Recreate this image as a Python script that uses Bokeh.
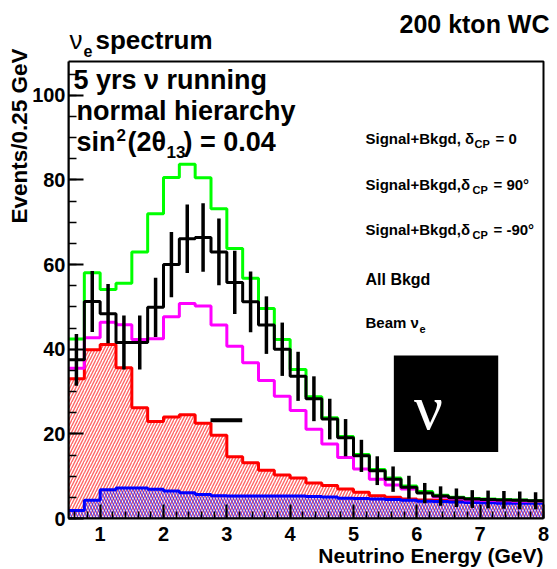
import numpy as np
from bokeh.plotting import figure
from bokeh.models import (Label, Range1d, FixedTicker, BoxAnnotation, Legend,
                          LegendItem, ColumnDataSource, Title)
from bokeh.core.properties import value
from bokeh.embed import file_html
from bokeh.resources import INLINE

# ---------------- data ----------------
E_MIN, E_MAX = 0.5, 8.0
bin_edges = np.linspace(E_MIN, E_MAX, 31)           # 0.25 GeV bins
bin_centers = 0.5 * (bin_edges[:-1] + bin_edges[1:])

sig_bkg_dcp0 = [37.5, 51.3, 48.4, 41.6, 41.6, 49.9, 60.0, 66.1, 66.4, 63.0,
                55.8, 51.2, 45.7, 40.0, 33.6, 28.3, 23.5, 19.1, 14.8, 11.3,
                9.3, 7.4, 6.0, 5.3, 4.9, 4.6, 4.5, 4.4, 4.3, 4.2]
sig_bkg_dcp0_err = [6.1, 7.2, 7.0, 6.4, 6.4, 7.0, 7.7, 8.1, 8.1, 7.9,
                    7.5, 7.2, 6.8, 6.3, 5.8, 5.3, 4.8, 4.4, 3.8, 3.4,
                    3.0, 2.7, 2.4, 2.3, 2.2, 2.1, 2.1, 2.1, 2.1, 2.0]
sig_bkg_dcp90 = [35.5, 42.7, 46.4, 45.8, 42.3, 42.5, 47.7, 50.8, 50.2, 45.7,
                 40.7, 36.8, 32.6, 28.9, 25.5, 21.1, 17.6, 14.4, 11.7, 9.3,
                 7.9, 7.0, 6.2, 5.1, 4.7, 4.4, 4.3, 4.2, 4.1, 4.0]
sig_bkg_dcpm90 = [42.4, 58.1, 54.1, 55.6, 63.0, 72.0, 80.6, 83.7, 80.5, 73.2,
                  63.8, 56.8, 49.6, 42.3, 35.2, 28.8, 23.8, 19.4, 15.1, 11.6,
                  9.6, 7.7, 6.4, 5.5, 5.0, 4.7, 4.6, 4.5, 4.4, 4.2]
all_bkgd = [33.0, 39.9, 41.1, 35.6, 26.2, 22.9, 24.0, 24.5, 22.5, 19.7,
            14.6, 13.2, 11.4, 10.3, 9.6, 8.4, 7.8, 7.0, 6.2, 5.4,
            5.0, 4.6, 4.4, 4.3, 4.2, 4.1, 4.1, 4.1, 4.1, 3.9]
beam_nue = [1.9, 4.3, 6.8, 7.2, 7.2, 6.9, 6.5, 6.1, 5.7, 5.4,
            5.3, 5.3, 5.3, 5.3, 5.3, 5.2, 5.1, 4.8, 4.7, 4.6,
            4.5, 4.3, 4.1, 4.0, 3.9, 3.8, 3.7, 3.6, 3.6, 3.6]

x_major_ticks = [1, 2, 3, 4, 5, 6, 7, 8]
x_minor_ticks = [round(0.6 + 0.2 * i, 2) for i in range(38)]
y_major_ticks = [0, 20, 40, 60, 80, 100]
y_minor_ticks = list(range(0, 110, 5))
Y_MAX = 108          # top of the plot box

# stray black dash seen in the picture
stray_x = [2.742, 3.243]
stray_y = [23.2, 23.2]

# black logo box (data units)
LOGO_LEFT, LOGO_RIGHT, LOGO_BOTTOM, LOGO_TOP = 5.637, 7.285, 15.7, 38.5

FONT = "Liberation Sans"

# ---------------- geometry ----------------
W, H = 557, 569
FL = 68                 # box / frame left (px)
BOX_RIGHT = 543         # box right (px)
BOX_TOP = 61            # box top (px)
FB = 518                # box / frame bottom (px)
FRAME_RIGHT = 553       # frame extended to the right for the header text
px_per_gev = (BOX_RIGHT - FL) / (E_MAX - E_MIN)
px_per_unit = (FB - BOX_TOP) / Y_MAX
x_end = E_MAX + (FRAME_RIGHT - BOX_RIGHT) / px_per_gev
y_end = FB / px_per_unit   # frame reaches the top of the canvas

p = figure(width=W, height=H, title=None, output_backend="svg",
           toolbar_location=None,
           x_range=Range1d(E_MIN, x_end), y_range=Range1d(0, y_end),
           min_border_left=FL, min_border_right=W - FRAME_RIGHT,
           min_border_top=0, min_border_bottom=H - FB)
p.xgrid.visible = False
p.ygrid.visible = False
p.outline_line_alpha = 0
p.background_fill_color = "white"
p.border_fill_color = "white"

p.xaxis.ticker = FixedTicker(ticks=x_major_ticks, minor_ticks=x_minor_ticks)
p.yaxis.ticker = FixedTicker(ticks=y_major_ticks, minor_ticks=y_minor_ticks)
p.xaxis.bounds = (E_MIN, E_MAX)
p.yaxis.bounds = (0, Y_MAX)
for ax in (p.xaxis[0], p.yaxis[0]):
    ax.axis_line_width = 2
    ax.major_tick_out = 0
    ax.minor_tick_out = 0
    ax.major_tick_line_width = 2
    ax.minor_tick_line_width = 1.5
    ax.major_label_text_font = FONT
    ax.major_label_text_font_style = "bold"
    ax.major_label_text_font_size = "20px"
    ax.major_label_text_color = "black"
p.xaxis.major_tick_in = 14
p.xaxis.minor_tick_in = 7
p.yaxis.major_tick_in = 15
p.yaxis.minor_tick_in = 8
p.xaxis.major_label_standoff = 8
p.yaxis.major_label_standoff = 3

# axis titles as side titles
p.add_layout(Title(text="Events/0.25 GeV", align="right", offset=48,
                   standoff=-4, vertical_align="bottom", text_font=FONT,
                   text_font_size="22.5px", text_font_style="bold",
                   text_color="black"), "left")
p.add_layout(Title(text="Neutrino Energy (GeV)", align="right",
                   offset=FRAME_RIGHT - BOX_RIGHT, standoff=0,
                   vertical_align="top", text_font=FONT,
                   text_font_size="21px", text_font_style="bold",
                   text_color="black"), "below")

zeros = [0.0] * len(all_bkgd)
src_bkg = ColumnDataSource(dict(left=bin_edges[:-1], right=bin_edges[1:],
                                top=all_bkgd, bottom=zeros))
src_beam = ColumnDataSource(dict(left=bin_edges[:-1], right=bin_edges[1:],
                                 top=beam_nue, bottom=zeros))
HATCH = dict(hatch_scale=6, hatch_weight=1.4, hatch_alpha=0.6)
p.quad(left="left", right="right", top="top", bottom="bottom", source=src_bkg,
       fill_color=None, line_color=None, hatch_pattern="/",
       hatch_color="red", **HATCH)
p.quad(left="left", right="right", top="top", bottom="bottom", source=src_beam,
       fill_color=None, line_color=None, hatch_pattern="\\",
       hatch_color="blue", **HATCH)


def step_line(vals, color, width):
    ys = list(vals) + [vals[-1]]
    return p.step(x=list(bin_edges), y=ys, mode="after",
                  line_color=color, line_width=width)


step_line(all_bkgd, "red", 3)
step_line(beam_nue, "blue", 3)
step_line(sig_bkg_dcp90, "#ff00ff", 3)
step_line(sig_bkg_dcpm90, "#00ff00", 3)
step_line(sig_bkg_dcp0, "black", 3)
lo = [v - e for v, e in zip(sig_bkg_dcp0, sig_bkg_dcp0_err)]
hi = [v + e for v, e in zip(sig_bkg_dcp0, sig_bkg_dcp0_err)]
p.segment(x0=list(bin_centers), y0=lo, x1=list(bin_centers), y1=hi,
          line_color="black", line_width=3.5)

p.line(x=stray_x, y=stray_y, line_color="black", line_width=4)

# plot box outline
p.add_layout(BoxAnnotation(left=E_MIN, right=E_MAX, bottom=0, top=Y_MAX,
                           fill_alpha=0, line_color="black", line_width=2,
                           line_alpha=1))

# ---------------- legends (glyphs) ----------------
r_l0 = p.line(x=[], y=[], line_color="black", line_width=3)
r_l90 = p.line(x=[], y=[], line_color="#ff00ff", line_width=3)
r_lm90 = p.line(x=[], y=[], line_color="#00ff00", line_width=3)
r_bkg = p.quad(left=[], right=[], top=[], bottom=[], fill_color=None,
               hatch_pattern="/", hatch_color="red",
               line_color="red", line_width=3, **HATCH)
r_beam = p.quad(left=[], right=[], top=[], bottom=[], fill_color=None,
                hatch_pattern="\\", hatch_color="blue",
                line_color="blue", line_width=3, **HATCH)

common = dict(orientation="vertical", padding=0, margin=0, label_standoff=0,
              label_width=0, label_height=0, label_text_font_size="1px",
              border_line_alpha=0, background_fill_alpha=0)
leg_a = Legend(items=[LegendItem(label=value(" "), renderers=[r_l0]),
                      LegendItem(label=value(" "), renderers=[r_l90]),
                      LegendItem(label=value(" "), renderers=[r_lm90])],
               location=(245, 270), spacing=12, glyph_width=44,
               glyph_height=34, **common)
leg_b = Legend(items=[LegendItem(label=value(" "), renderers=[r_bkg]),
                      LegendItem(label=value(" "), renderers=[r_beam])],
               location=(239.5, 173.5), spacing=4, glyph_width=55,
               glyph_height=42, **common)
p.add_layout(leg_a)
p.add_layout(leg_b)

# logo
p.add_layout(BoxAnnotation(left=LOGO_LEFT, right=LOGO_RIGHT, bottom=LOGO_BOTTOM,
                           top=LOGO_TOP, fill_color="black", fill_alpha=1,
                           line_alpha=0))


# ---------------- texts ----------------
BASE_SHIFT = 0.37   # empirical correction of the alphabetic baseline (em)


def put(sx, sy, text, size, bold=True, align="left", color="black",
        font=FONT, shift=BASE_SHIFT):
    sy_anchor = sy - shift * size
    p.add_layout(Label(x=E_MIN, y=0, x_offset=sx - FL, y_offset=FB - sy_anchor,
                       text=text, text_font=font,
                       text_font_size=f"{size}px",
                       text_font_style="bold" if bold else "normal",
                       text_align=align, text_baseline="alphabetic",
                       text_color=color))


put(549, 33, "200 kton WC", 25, align="right")
put(69, 49, "ν", 26, bold=False)
put(83, 56, "e", 16)
put(95, 49, "spectrum", 26)

put(73, 89, "5 yrs ν running", 27)
put(76, 120.5, "normal hierarchy", 27)
put(76, 151.5, "sin", 27)
put(116, 141, "2", 17)
put(127, 151.5, "(2θ", 27)
put(166, 158, "13", 17)
put(183, 151.5, ") = 0.04", 27)

# legend texts
put(365, 143.5, "Signal+Bkgd, δ", 15)
put(474, 148, "CP", 11)
put(495, 143.5, "= 0", 15)
put(365, 189.5, "Signal+Bkgd,δ", 15)
put(472, 194, "CP", 11)
put(493, 189.5, "= 90°", 15)
put(365, 234.5, "Signal+Bkgd,δ", 15)
put(472, 239, "CP", 11)
put(493, 234.5, "= -90°", 15)
put(365, 285, "All Bkgd", 16)
put(365, 327.5, "Beam ν", 15)
put(419, 333, "e", 11)

# logo letter
put(428, 426, "ν", 64, bold=False, align="center", color="white",
    font="Liberation Serif", shift=0.3)

open("out.html", "w").write(file_html(p, INLINE))
